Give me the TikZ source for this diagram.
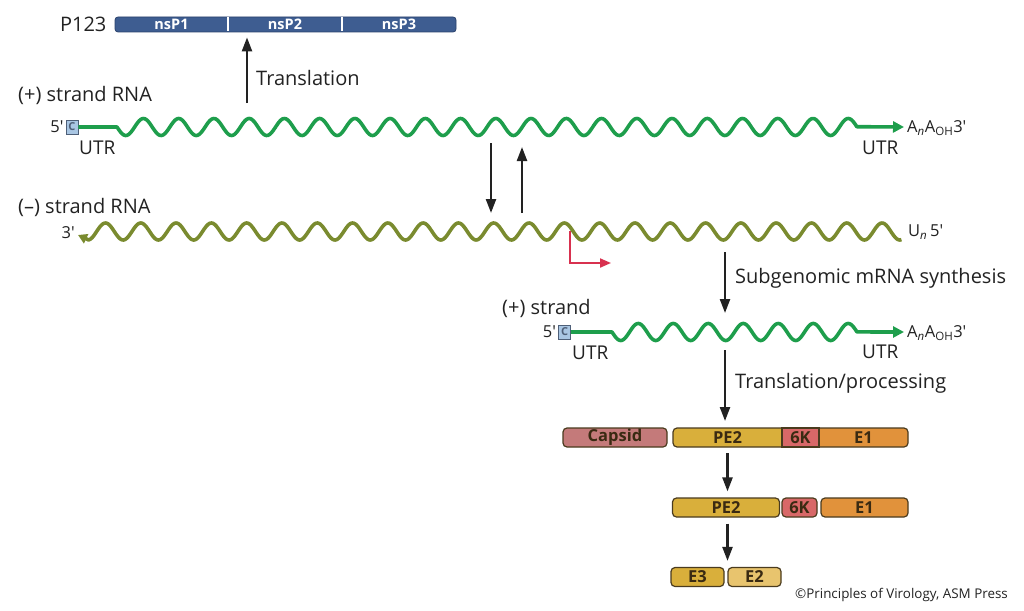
\documentclass[tikz,border=0pt]{standalone}
\usepackage{fontspec}
\setmainfont{Open Sans}
\usetikzlibrary{arrows.meta,positioning}

\definecolor{inkc}{HTML}{222222}
\definecolor{barblue}{HTML}{3E5D91}
\definecolor{barline}{HTML}{2A416B}
\definecolor{plusc}{HTML}{1E9E4C}
\definecolor{minusc}{HTML}{7A8B2F}
\definecolor{promc}{HTML}{D8314F}
\definecolor{capfill}{HTML}{A9C6E3}
\definecolor{capline}{HTML}{4E5F78}
\definecolor{capc}{HTML}{C47A7A}
\definecolor{pe2c}{HTML}{D9AF3B}
\definecolor{sixkc}{HTML}{D86868}
\definecolor{e1c}{HTML}{E1923B}
\definecolor{e2c}{HTML}{E8C46E}
\definecolor{boxline}{HTML}{4A3B1E}
\definecolor{protink}{HTML}{3A2A12}

\newcommand{\pr}{\textquotesingle}

\begin{document}
\begin{tikzpicture}[x=1pt,y=-1pt,
    lbl/.style={font=\fontsize{20}{24}\selectfont, text=inkc, inner sep=0pt},
    utr/.style={font=\fontsize{19}{22}\selectfont, text=inkc, inner sep=0pt},
    endlbl/.style={font=\fontsize{16.5}{19}\selectfont, text=inkc, inner sep=0pt},
    nsp/.style={font=\fontsize{14.5}{17}\selectfont\bfseries, text=white, inner sep=0pt},
    cbox/.style={draw=capline, fill=capfill, line width=0.8pt, minimum width=12pt,
                minimum height=14pt, inner sep=0pt,
                font=\fontsize{11}{13}\selectfont\bfseries, text=capline},
    plusrna/.style={draw=plusc, line width=3.6pt, line join=round},
    minusrna/.style={draw=minusc, line width=3.6pt, line join=round},
    arr/.style={draw=inkc, line width=2.3pt, -{Triangle[length=14pt,width=10pt]}},
    promarr/.style={draw=promc, line width=2pt, -{Triangle[length=11pt,width=9pt]}},
    prot/.style={draw=boxline, line width=1.2pt, rounded corners=4pt, minimum height=19pt,
                 inner sep=0pt, font=\fontsize{16.5}{19}\selectfont\bfseries, text=protink},
    protlbl/.style={minimum height=19pt, inner sep=0pt,
                    font=\fontsize{16.5}{19}\selectfont\bfseries, text=protink},
    seg/.style={draw=boxline, line width=1.2pt}]
    \useasboundingbox (0,0) rectangle (1024,610);
    % P123 polyprotein
    \node[draw=barline, fill=barblue, rounded corners=3pt, line width=0.8pt,
          minimum width=341pt, minimum height=15pt, inner sep=0pt] (p123) at (285.5,24.5) {};
    \node[lbl, left=8pt of p123] (p123lbl) {P123};
    \foreach \xd in {228,342}
        \draw[white, line width=1.6pt] (\xd,17.5) -- (\xd,31.5);
    \foreach \i/\xc in {1/171.5,2/285,3/399}
        \node[nsp] (nsp\i) at (\xc,24.5) {nsP\i};
    % translation
    \coordinate (trl) at (247,103);
    \draw[arr, shorten >=5pt] (trl) -- (trl |- p123.south);
    \node[lbl, anchor=west] (trllbl) at (256,78) {Translation};
    % (+) strand RNA
    \node[lbl, anchor=west] (plusl) at (18,95) {(+) strand RNA};
    \node[cbox] (cbox1) at (72,127) {C};
    \node[endlbl, left=2pt of cbox1] (five1) {5\pr};
    \coordinate (top3) at (904,127);
    \draw[plusrna, -{Triangle[length=11pt,width=11pt]}] (cbox1.east) -- (117,127)
        -- plot[domain=0:21, samples=600] ({117+35.24*\x},{127+8.5*sin(360*\x)}) -- (top3);
    \node[endlbl, anchor=west] (polya1) at (907,128) {A\textsubscript{\textit{n}}A\textsubscript{OH}3\pr};
    \node[utr, anchor=west] (utr1) at (79,148) {UTR};
    \node[utr, anchor=west] (utr2) at (862,148) {UTR};
    % (-) strand RNA
    \node[lbl, anchor=west] (minusl) at (18,207) {(–) strand RNA};
    \coordinate (m3) at (78,235);
    \draw[minusrna, {Triangle[length=9pt,width=10pt]}-] (m3)
        -- plot[domain=0.27:23.3, samples=700] ({79+35.3*\x},{231.5+8.5*sin(360*\x)});
    \node[endlbl, anchor=east] (three2) at (75,233) {3\pr};
    \node[endlbl, anchor=west] (un5) at (908,232) {U\textsubscript{\textit{n}}\,5\pr};
    % replication
    \coordinate (dn1) at (491,143);
    \coordinate (dn2) at (491,213);
    \draw[arr] (dn1) -- (dn2);
    \coordinate (up1) at (522,213);
    \coordinate (up2) at (522,147);
    \draw[arr] (up1) -- (up2);
    % subgenomic promoter
    \coordinate (prom) at (570,231);
    \coordinate (promend) at (611,263);
    \draw[promarr] (prom) |- (promend);
    % subgenomic synthesis
    \coordinate (sg1) at (725,252);
    \coordinate (sg2) at (725,313);
    \draw[arr] (sg1) -- (sg2);
    \node[lbl, anchor=west] (sglbl) at (735,278) {Subgenomic mRNA synthesis};
    % (+) strand subgenomic
    \node[lbl, anchor=west] (sgplus) at (502,308) {(+) strand};
    \node[cbox] (cbox2) at (564.5,332) {C};
    \node[endlbl, left=2pt of cbox2] (five2) {5\pr};
    \coordinate (sg3) at (904,332);
    \draw[plusrna, -{Triangle[length=11pt,width=11pt]}] (cbox2.east) -- (612,332)
        -- plot[domain=0:7, samples=250] ({612+35*\x},{332+8.5*sin(360*\x)}) -- (sg3);
    \node[endlbl, anchor=west] (polya2) at (907,333) {A\textsubscript{\textit{n}}A\textsubscript{OH}3\pr};
    \node[utr, anchor=west] (utr3) at (572,353) {UTR};
    \node[utr, anchor=west] (utr4) at (862,352) {UTR};
    % translation/processing
    \coordinate (tp1) at (725,350);
    \coordinate (tp2) at (725,421);
    \draw[arr] (tp1) -- (tp2);
    \node[lbl, anchor=west] (tplbl) at (735,383) {Translation/processing};
    % structural polyprotein
    \node[prot, fill=capc, minimum width=104pt] (capsid) at (615,437.5) {Capsid};
    \filldraw[seg, fill=pe2c] (782,447) -- (720,447) [rounded corners=4pt] -- (673,447)
        -- (673,428) -- (720,428) [sharp corners] -- (782,428) -- cycle;
    \filldraw[seg, fill=e1c] (819,428) -- (860,428) [rounded corners=4pt] -- (908,428)
        -- (908,447) -- (860,447) [sharp corners] -- (819,447) -- cycle;
    \filldraw[seg, fill=sixkc] (782,428) rectangle (819,447);
    \node[protlbl, minimum width=109pt] (pe2a) at (727.5,437.5) {PE2};
    \node[protlbl, minimum width=37pt] (sixka) at (800.5,437.5) {6K};
    \node[protlbl, minimum width=89pt] (e1a) at (863.5,437.5) {E1};
    % cleaved
    \node[prot, fill=pe2c, minimum width=107pt] (pe2b) at (726,507.5) {PE2};
    \node[prot, fill=sixkc, minimum width=35pt] (sixkb) at (799.5,507.5) {6K};
    \node[prot, fill=e1c, minimum width=87pt] (e1b) at (864.5,507.5) {E1};
    \draw[arr, shorten <=6pt, shorten >=6pt] (pe2a.south) -- (pe2a.south |- pe2b.north);
    % E3 and E2
    \node[prot, fill=pe2c, minimum width=53pt] (e3) at (697.5,577) {E3};
    \node[prot, fill=e2c, minimum width=53pt] (e2) at (754.5,577) {E2};
    \draw[arr, shorten <=6pt, shorten >=6pt] (pe2a.south |- pe2b.south) -- (pe2a.south |- e3.north);
    % credit
    \node[font=\fontsize{13.4}{16}\selectfont, text=inkc, anchor=east, inner sep=0pt] (credit) at (1008,595) {©Principles of Virology, ASM Press};
\end{tikzpicture}
\end{document}
